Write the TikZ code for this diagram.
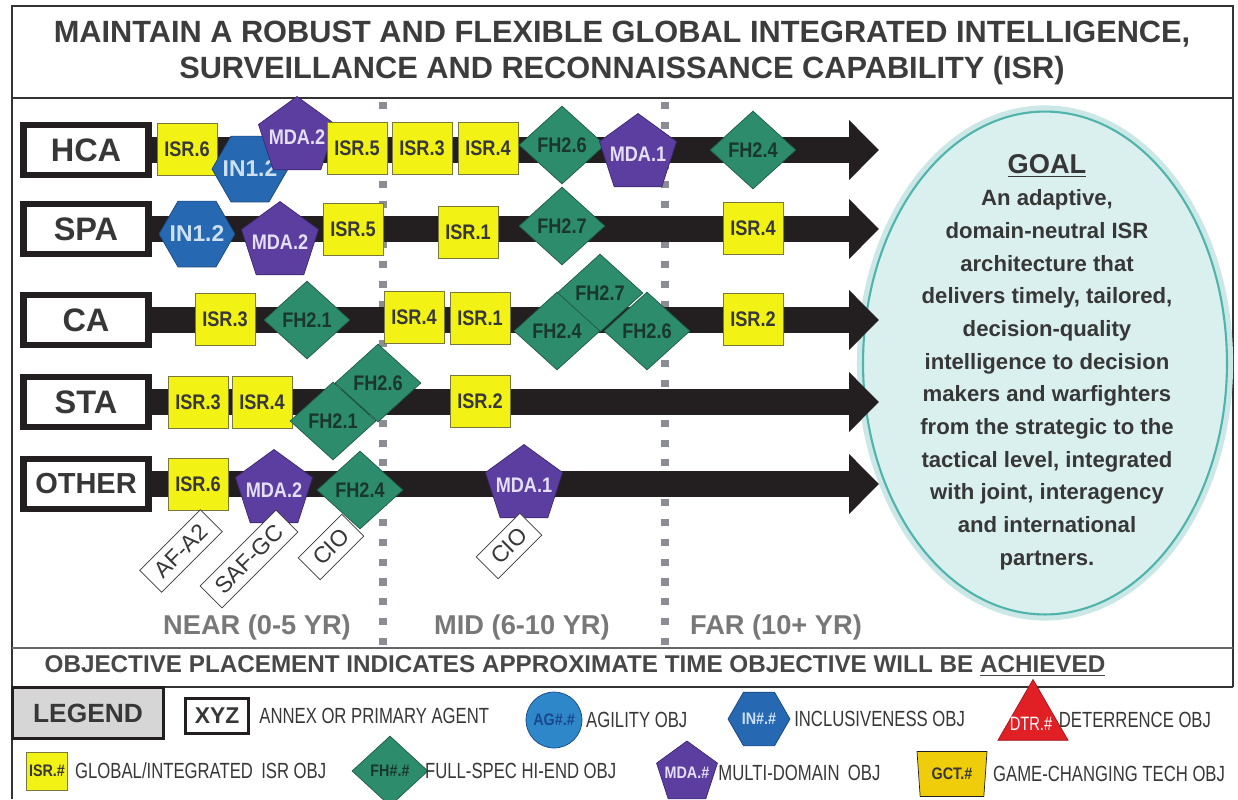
\documentclass[tikz,border=0pt]{standalone}
\usepackage{fontspec}
\setmainfont{Liberation Sans}
\newfontfamily\narrowfont[FakeStretch=0.86]{Liberation Sans}
\newfontfamily\legendfont[FakeStretch=0.76]{Liberation Sans}
\usepackage{xcolor}
\usepackage{tikz}
\usetikzlibrary{shapes.geometric,arrows.meta,positioning}

\definecolor{barblack}{RGB}{35,31,32}
\definecolor{textgrey}{RGB}{55,55,55}
\definecolor{titlegrey}{RGB}{60,60,60}
\definecolor{yeargrey}{RGB}{120,120,120}
\definecolor{divgrey}{RGB}{140,140,148}
\definecolor{isryellow}{RGB}{242,242,20}
\definecolor{isrline}{RGB}{120,120,60}
\definecolor{fhgreen}{RGB}{45,140,108}
\definecolor{fhline}{RGB}{30,90,70}
\definecolor{fhtext}{RGB}{25,55,45}
\definecolor{mdapurple}{RGB}{92,62,160}
\definecolor{mdaline}{RGB}{60,40,110}
\definecolor{mdatext}{RGB}{228,222,246}
\definecolor{incblue}{RGB}{38,104,178}
\definecolor{incline}{RGB}{25,70,125}
\definecolor{inctext}{RGB}{205,225,245}
\definecolor{agblue}{RGB}{45,135,200}
\definecolor{agtext}{RGB}{25,70,140}
\definecolor{dtrred}{RGB}{225,32,38}
\definecolor{gctgold}{RGB}{240,205,10}
\definecolor{goalfill}{RGB}{218,240,238}
\definecolor{goaldraw}{RGB}{80,180,172}

\newcommand{\objfont}{\narrowfont\bfseries\fontsize{12}{12}\selectfont}
\newcommand{\keyfont}{\narrowfont\bfseries\fontsize{9.5}{9.5}\selectfont}
\newcommand{\slim}[1]{\makebox[0pt]{#1}}

\tikzset{
  frameline/.style={draw=black!80, line width=1.6pt},
  thinline/.style={draw=black!60, line width=0.8pt},
  yeardivide/.style={draw=divgrey, line width=4pt, dash pattern=on 4pt off 7.3pt},
  rowlabel/.style={draw=barblack, line width=3.5pt, fill=white, text=textgrey, minimum width=2.5cm, minimum height=1cm, inner sep=0pt},
  rowarrow/.style={draw=barblack, line width=15pt, -{Triangle[length=17pt,width=33pt]}},
  isr/.style={draw=isrline, fill=isryellow, text=textgrey, minimum width=1.2cm, minimum height=1.04cm, inner sep=0pt, font=\objfont},
  fh/.style={diamond, draw=fhline, fill=fhgreen, text=fhtext, minimum width=1.72cm, minimum height=1.56cm, inner sep=0pt, font=\objfont},
  mda/.style={regular polygon, regular polygon sides=5, draw=mdaline, fill=mdapurple, text=mdatext, minimum size=1.62cm, inner sep=0pt, font=\objfont},
  inc/.style={regular polygon, regular polygon sides=6, draw=incline, fill=incblue, text=inctext, minimum size=1.52cm, inner sep=0pt, font=\bfseries\fontsize{13}{13}\selectfont},
  agent/.style={draw=textgrey, fill=white, text=textgrey, rotate=45, minimum height=0.62cm, inner xsep=6pt, font=\fontsize{13}{13}\selectfont},
  yeartext/.style={text=yeargrey, font=\bfseries\fontsize{15.5}{15.5}\selectfont},
  legtext/.style={text=textgrey, font=\legendfont\fontsize{12.5}{12.5}\selectfont, inner sep=1pt},
}

\begin{document}
\begin{tikzpicture}[x=0.02cm, y=-0.02cm]
\useasboundingbox (0,0) rectangle (1238,799);

% title
\draw[frameline] (12,6) rectangle (1233,98);
\node[text=titlegrey, align=center, font=\bfseries\fontsize{17.5}{21}\selectfont] (title) at (622,53)
  {MAINTAIN A ROBUST AND FLEXIBLE GLOBAL INTEGRATED INTELLIGENCE,\\SURVEILLANCE AND RECONNAISSANCE CAPABILITY (ISR)};

\draw[frameline] (12,98) -- (12,799);
\draw[frameline] (1233,98) -- (1233,687);
\draw[thinline] (12,648) -- (1233,648);
\draw[frameline] (12,687) -- (1233,687);

\draw[yeardivide] (383,102) -- (383,646);
\draw[yeardivide] (665,102) -- (665,646);

% goal
\node[ellipse, fill=goalfill, draw=goaldraw, line width=1.2pt, preaction={draw=goaldraw!30, line width=7pt},
  minimum width=7.28cm, minimum height=10.06cm] (goal) at (1045,363) {};
\node[text=textgrey, align=center, font=\bfseries\fontsize{12.6}{18.6}\selectfont] (goalbody) at (1047,362)
  {{\fontsize{15.5}{18}\selectfont\underline{GOAL}}\\An adaptive,\\domain-neutral ISR\\architecture that\\delivers timely, tailored,\\decision-quality\\intelligence to decision\\makers and warfighters\\from the strategic to the\\tactical level, integrated\\with joint, interagency\\and international\\partners.};

% rows
\foreach \name/\yy/\fs in {HCA/150/18.5, SPA/229/18.5, CA/320/18.5, STA/402/18.5, OTHER/484/16.5} {
  \node[rowlabel, font=\bfseries\fontsize{\fs}{\fs}\selectfont] (lbl\name) at (86,\yy) {\name};
  \coordinate (end\name) at (879,\yy);
  \draw[rowarrow] (lbl\name.east) -- (end\name);
}

% HCA
\node[isr] (hca-isr6) at (187,149) {ISR.6};
\node[inc] (hca-in12) at (250,169) {\slim{IN1.2}};
\node[mda] (hca-mda2) at (297,137) {\slim{MDA.2}};
\node[isr] (hca-isr5) at (357,148) {ISR.5};
\node[isr] (hca-isr3) at (422,148) {ISR.3};
\node[isr] (hca-isr4) at (488,148) {ISR.4};
\node[fh] (hca-fh26) at (562,145) {FH2.6};
\node[mda] (hca-mda1) at (638,154) {\slim{MDA.1}};
\node[fh] (hca-fh24) at (753,150) {FH2.4};

% SPA
\node[inc] (spa-in12) at (197,234) {\slim{IN1.2}};
\node[mda] (spa-mda2) at (280,242) {\slim{MDA.2}};
\node[isr] (spa-isr5) at (353,229) {ISR.5};
\node[isr] (spa-isr1) at (468,232) {ISR.1};
\node[fh] (spa-fh27) at (562,226) {FH2.7};
\node[isr] (spa-isr4) at (753,228) {ISR.4};

% CA
\node[isr] (ca-isr3) at (225,319) {ISR.3};
\node[fh] (ca-fh21) at (307,320) {FH2.1};
\node[isr] (ca-isr4) at (414,317) {ISR.4};
\node[isr] (ca-isr1) at (480,318) {ISR.1};
\node[fh] (ca-fh27) at (600,293) {FH2.7};
\node[fh] (ca-fh24) at (557,331) {FH2.4};
\node[fh] (ca-fh26) at (647,331) {FH2.6};
\node[isr] (ca-isr2) at (753,319) {ISR.2};

% STA
\node[isr] (sta-isr3) at (198,402) {ISR.3};
\node[isr] (sta-isr4) at (262,402) {ISR.4};
\node[fh] (sta-fh26) at (378,383) {FH2.6};
\node[fh] (sta-fh21) at (333,421) {FH2.1};
\node[isr] (sta-isr2) at (480,401) {ISR.2};

% OTHER
\node[isr] (oth-isr6) at (198,484) {ISR.6};
\node[mda] (oth-mda2) at (274,490) {\slim{MDA.2}};
\node[fh] (oth-fh24) at (360,490) {FH2.4};
\node[mda] (oth-mda1) at (524,485) {\slim{MDA.1}};

\node[agent] (afa2) at (181,551) {AF-A2};
\node[agent] (safgc) at (249,559) {SAF-GC};
\node[agent] (cio) at (331,547) {CIO};
\node[agent] (cio2) at (509,546) {CIO};

% near / mid / far
\node[yeartext] (near) at (257,627) {NEAR (0-5 YR)};
\node[yeartext] (mid) at (522,627) {MID (6-10 YR)};
\node[yeartext] (far) at (776,627) {FAR (10+ YR)};

\node[text=black!72, font=\bfseries\fontsize{13.8}{13.8}\selectfont] (placement) at (575,666)
  {OBJECTIVE PLACEMENT INDICATES APPROXIMATE TIME OBJECTIVE WILL BE \underline{ACHIEVED}};

% legend
\node[draw=barblack, line width=1.2pt, fill=black!16, text=textgrey, minimum width=3.02cm, minimum height=1.02cm,
  font=\bfseries\fontsize{15}{15}\selectfont] (legend) at (88,713) {LEGEND};
\node[draw=barblack, line width=2pt, fill=white, text=textgrey, minimum width=1.26cm, minimum height=0.7cm,
  font=\bfseries\fontsize{13}{13}\selectfont] (xyz) at (217,716) {XYZ};
\node[legtext, right=4pt of xyz] (annex) {ANNEX OR PRIMARY AGENT};
\node[circle, draw=agtext, fill=agblue, text=agtext, minimum size=1.12cm, inner sep=0pt, font=\keyfont] (agicon) at (554,720) {AG\#.\#};
\node[legtext, right=1pt of agicon] (agility) {AGILITY OBJ};
\node[inc, minimum size=1.24cm, font=\keyfont] (incicon) at (759,719) {\slim{IN\#.\#}};
\node[legtext, right=1pt of incicon] (inclusive) {INCLUSIVENESS OBJ};
\node[regular polygon, regular polygon sides=3, draw=dtrred!70!black, fill=dtrred, minimum size=1.62cm, inner sep=0pt] (dtricon) at (1033,720) {};
\node[text=white, font=\legendfont\fontsize{11}{11}\selectfont] (dtrtext) at (1031,724) {DTR.\#};
\node[legtext, right=0pt of dtricon] (deterrence) {DETERRENCE OBJ};

\node[isr, minimum width=0.82cm, minimum height=0.76cm, font=\keyfont] (isricon) at (47,771) {ISR.\#};
\node[legtext, right=3pt of isricon] (global) {GLOBAL/INTEGRATED\, ISR OBJ};
\node[fh, minimum width=1.52cm, minimum height=1.4cm, font=\keyfont] (fhicon) at (390,771) {FH\#.\#};
\node[legtext, right=-3pt of fhicon] (fullspec) {FULL-SPEC HI-END OBJ};
\node[mda, minimum size=1.28cm, font=\keyfont] (mdaicon) at (687,773) {\slim{MDA.\#}};
\node[legtext, right=1pt of mdaicon] (multidomain) {MULTI-DOMAIN\, OBJ};
\node[trapezium, shape border rotate=180, trapezium left angle=75, trapezium right angle=75, trapezium stretches body,
  draw=barblack, fill=gctgold, text=textgrey, minimum width=1.4cm, minimum height=0.9cm, inner sep=0pt, font=\keyfont] (gcticon) at (952,774) {GCT.\#};
\node[legtext, right=3pt of gcticon] (gamechanging) {GAME-CHANGING TECH OBJ};
\end{tikzpicture}
\end{document}
